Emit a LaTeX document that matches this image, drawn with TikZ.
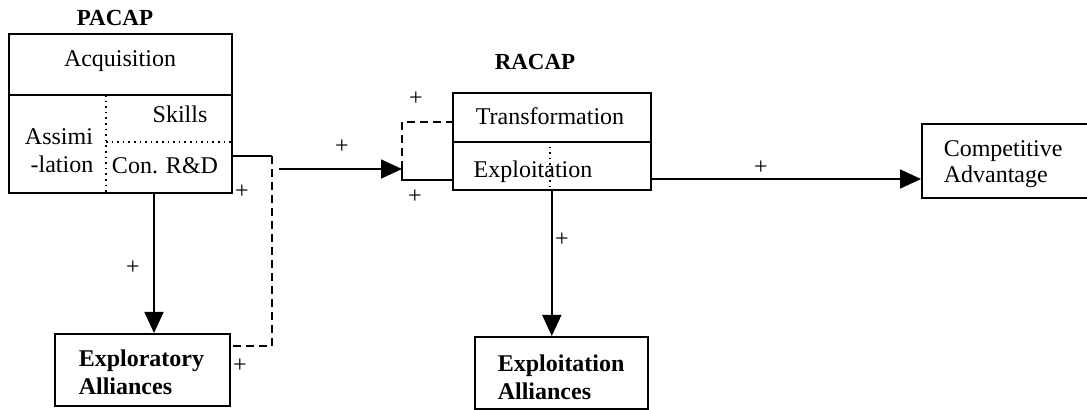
\documentclass[tikz,border=0pt]{standalone}
\usepackage{fontspec}
\setmainfont{Liberation Serif}
\usetikzlibrary{positioning, calc, arrows.meta}

\begin{document}
\begin{tikzpicture}[x=0.5pt, y=-0.5pt, line width=0.8pt,
    >={Triangle[length=10.5pt, width=9.5pt]},
    box/.style={draw, rectangle, inner sep=0pt, anchor=north west},
    txt/.style={font=\fontsize{12}{14}\selectfont, inner sep=0pt, anchor=base},
    ltxt/.style={txt, anchor=base west},
    btxt/.style={ltxt, font=\fontsize{12}{14}\selectfont\bfseries},
    hdr/.style={txt, font=\fontsize{11.5}{14}\selectfont\bfseries},
    plus/.style={font=\fontsize{12}{14}\selectfont, inner sep=0pt},
    dashline/.style={dash pattern=on 4pt off 2.5pt}]

    \useasboundingbox (0,0) rectangle (1087,410);
    \clip (0,0) rectangle (1087,410);

    % ================= PACAP =================
    \node[hdr] (pacaptitle) at (115,26) {PACAP};
    \node[box, minimum width=111.5pt, minimum height=79.5pt] (pacap) at (8,33) {};
    \draw (8,95) -- (231,95);
    \draw[dotted] (106,95) -- (106,192);
    \draw[dotted] (106,142) -- (231,142);

    \node[txt] (acq) at (120,67) {Acquisition};
    \node[txt] (skills) at (180,123) {Skills};
    \node[txt] (assim1) at (59,145) {Assimi};
    \node[txt] (assim2) at (62,173) {-lation};
    \node[txt] (conrd) at (165,174) {Con. R\&D};

    % ================= RACAP =================
    \node[hdr] (racaptitle) at (535,70) {RACAP};
    \node[box, minimum width=99pt, minimum height=24.5pt] (trans) at (452,92) {};
    \node[box, minimum width=99pt, minimum height=24pt] (exploit) at (452,141) {};
    \draw[dotted] (550,141) -- (550,189);

    \node[txt] (transtxt) at (550,125) {Transformation};
    \node[txt] (exploittxt) at (533,178) {Exploitation};

    % ================= Outcome boxes =================
    \node[box, minimum width=92pt, minimum height=37pt] (comp) at (921,123) {};
    \node[ltxt] (comp1) at (943,157) {Competitive};
    \node[ltxt] (comp2) at (943,183) {Advantage};

    \node[box, minimum width=87.5pt, minimum height=36pt] (explor) at (54,333) {};
    \node[btxt] (explor1) at (78,367) {Exploratory};
    \node[btxt] (explor2) at (78,395) {Alliances};

    \node[box, minimum width=86.5pt, minimum height=36pt] (exalli) at (474,336) {};
    \node[btxt] (exalli1) at (497,372) {Exploitation};
    \node[btxt] (exalli2) at (497,400) {Alliances};

    % ================= Connectors =================
    \coordinate (pout) at (231,156);
    \coordinate (pcorner) at (272,156);
    \coordinate (xin) at (229,346);
    \coordinate (src) at (279,169);
    \coordinate (split) at (402,169);
    \coordinate (tin) at (452,122);
    \coordinate (ein) at (452,180);
    \coordinate (pdown) at (154,192);
    \coordinate (rout) at (650,179);

    \draw (pout) -- (pcorner);
    \draw[dashline] (pcorner) |- (xin);
    \draw[->] (src) -- (split);
    \draw[dashline] (split) |- (tin);
    \draw (split) |- (ein);
    \draw[->] (pdown) -- (pdown |- explor.north);
    \draw[->] (exploit.south) -- (exploit.south |- exalli.north);
    \draw[->] (rout) -- (rout -| comp.west);

    % Signs
    \node[plus] (p1) at (242,192) {+};
    \node[plus] (p2) at (240,366) {+};
    \node[plus] (p3) at (342,147) {+};
    \node[plus] (p4) at (416,99) {+};
    \node[plus] (p5) at (415,197) {+};
    \node[plus] (p6) at (761,168) {+};
    \node[plus] (p7) at (133,268) {+};
    \node[plus] (p8) at (562,240) {+};

\end{tikzpicture}
\end{document}
